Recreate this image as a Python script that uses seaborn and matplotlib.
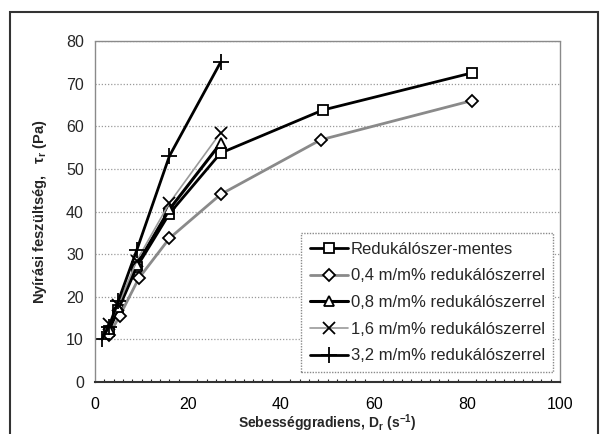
import numpy as np
import pandas as pd
import matplotlib
matplotlib.use("Agg")
import matplotlib.pyplot as plt
import seaborn as sns
from matplotlib.patches import Rectangle
from matplotlib.ticker import MultipleLocator

# ---- data ----
x_mentes = [3, 5, 9, 16, 27, 49, 81]
y_mentes = [12, 17, 27, 39.5, 53.7, 63.8, 72.5]

x_04 = [3, 5.3, 9.4, 16, 27, 48.5, 81]
y_04 = [11, 15.5, 24.3, 33.7, 44, 56.8, 66]

x_08 = [3, 5, 9, 16, 27]
y_08 = [12.5, 17.5, 27.5, 40.5, 56]

x_16 = [3, 5, 9, 16, 27]
y_16 = [13.5, 18, 28.5, 42, 58.5]

x_32 = [1.5, 3, 5, 9, 16, 27]
y_32 = [10, 13, 19, 31, 53, 75]

labels = ["Redukálószer-mentes",
          "0,4 m/m% redukálószerrel",
          "0,8 m/m% redukálószerrel",
          "1,6 m/m% redukálószerrel",
          "3,2 m/m% redukálószerrel"]

sns.set_style("white")
plt.rcParams["font.family"] = ["Liberation Sans", "DejaVu Sans"]
plt.rcParams["mathtext.fontset"] = "custom"
plt.rcParams["mathtext.rm"] = "Liberation Sans:bold"
plt.rcParams["mathtext.bf"] = "Liberation Sans:bold"
plt.rcParams["mathtext.it"] = "Liberation Sans:bold"
plt.rcParams["mathtext.default"] = "bf"

fig = plt.figure(figsize=(6.1, 4.34), dpi=100)
ax = fig.add_axes([95 / 610, 52 / 434, 465 / 610, 341 / 434])

# series styles: (x, y, marker, color, linewidth, markersize, fill)
styles = [
    (x_mentes, y_mentes, "s", "black", 2.0, 7, "white"),
    (x_04, y_04, "D", "#8a8a8a", 2.0, 6.5, "white"),
    (x_08, y_08, "^", "black", 2.2, 7.5, "white"),
    (x_16, y_16, "x", "#9a9a9a", 1.2, 8, "black"),
    (x_32, y_32, "+", "black", 2.0, 11, "black"),
]

for (xs, ys, mk, col, lw, ms, fc), lab in zip(styles, labels):
    sns.lineplot(x=xs, y=ys, ax=ax, sort=False, color=col, linewidth=lw,
                 marker=mk, markersize=ms, markerfacecolor=fc,
                 markeredgecolor="black", markeredgewidth=1.3, label=lab)

ax.set_xlim(0, 100)
ax.set_ylim(0, 80)
ax.xaxis.set_major_locator(MultipleLocator(20))
ax.xaxis.set_minor_locator(MultipleLocator(2))
ax.yaxis.set_major_locator(MultipleLocator(10))

ax.grid(axis="y", color="#9a9a9a", linestyle=(0, (1, 1.5)), linewidth=0.9)
ax.grid(axis="x", visible=False)

for side in ["top", "right", "left"]:
    ax.spines[side].set_color("#8a8a8a")
    ax.spines[side].set_linestyle((0, (1, 1)))
    ax.spines[side].set_linewidth(1.0)
ax.spines["bottom"].set_color("#333333")
ax.spines["bottom"].set_linewidth(1.5)

ax.tick_params(axis="x", which="major", direction="in", length=4, width=1,
               pad=11, labelsize=11.5, colors="black")
ax.tick_params(axis="x", which="minor", direction="in", length=2.5, width=0.8,
               bottom=True)
ax.tick_params(axis="y", which="major", length=0, pad=8, labelsize=11.5)

ax.set_xlabel("Sebességgradiens, D$_r$ (s$^{-1}$)", fontsize=10,
              fontweight="bold", labelpad=0)
ax.set_ylabel("Nyírási feszültség,   $\\tau_r$ (Pa)", fontsize=10.5,
              fontweight="bold", labelpad=12)

leg = ax.legend(loc="lower right", bbox_to_anchor=(0.985, 0.03),
                fontsize=12, frameon=True, fancybox=False, handlelength=2.3,
                handletextpad=0.15, borderpad=0.5, labelspacing=0.7,
                borderaxespad=0)
frame = leg.get_frame()
frame.set_edgecolor("#8a8a8a")
frame.set_linestyle((0, (1, 1)))
frame.set_linewidth(1.0)
frame.set_facecolor("white")
frame.set_alpha(1)

# outer chart border
fig.patches.append(Rectangle((10 / 610, -0.05), 588 / 610, (434 - 12) / 434 + 0.05,
                             transform=fig.transFigure, fill=False,
                             edgecolor="#333333", linewidth=1.5))

fig.savefig("out.png", dpi=100)
